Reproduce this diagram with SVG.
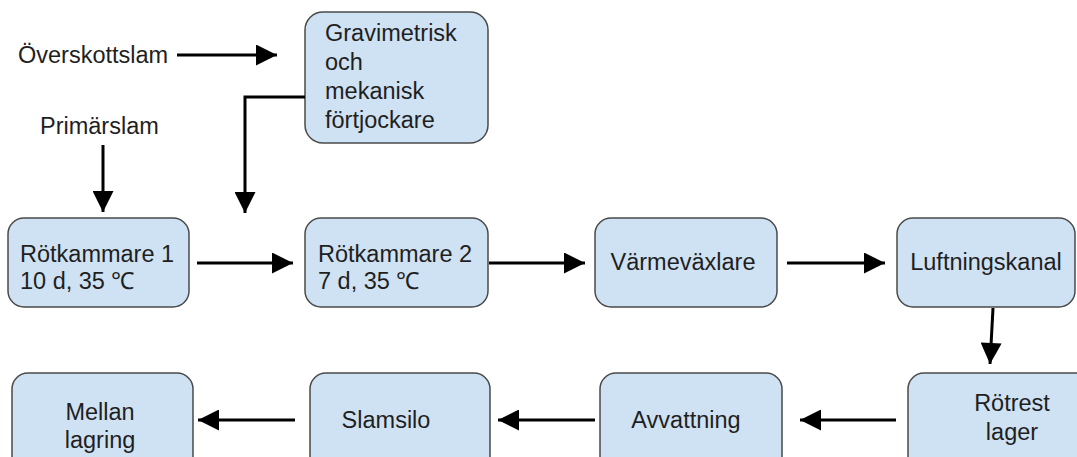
<svg xmlns="http://www.w3.org/2000/svg" width="1077" height="457" viewBox="0 0 1077 457">
  <style>
    .box { fill: #cfe2f3; stroke: #4a4a4a; stroke-width: 1.5; }
    .lbl { font-family: "Liberation Sans", Arial, sans-serif; font-size: 23.5px; fill: #1f1f1f; }
    .mid { text-anchor: middle; }
    .wire { fill: none; stroke: #000; stroke-width: 3; }
  </style>
  <defs>
    <marker id="head" viewBox="0 0 10 10" refX="10" refY="5" markerWidth="7.5" markerHeight="7" markerUnits="strokeWidth" orient="auto">
      <path d="M0,0 L10,5 L0,10 z" fill="#000"/>
    </marker>
  </defs>
  <rect width="1077" height="457" fill="#fff"/>

  <!-- free-standing inputs -->
  <text class="lbl" x="18" y="63">Överskottslam</text>
  <text class="lbl" x="40" y="134">Primärslam</text>

  <g id="thickener">
    <rect class="box" x="305" y="12" width="183" height="131" rx="18"/>
    <text class="lbl" x="325" y="41">Gravimetrisk</text>
    <text class="lbl" x="325" y="70">och</text>
    <text class="lbl" x="325" y="99">mekanisk</text>
    <text class="lbl" x="325" y="128">förtjockare</text>
  </g>

  <g id="digester1">
    <rect class="box" x="8" y="218" width="181" height="89" rx="16"/>
    <text class="lbl" x="20" y="262">Rötkammare 1</text>
    <text class="lbl" x="20" y="289">10 d, 35 ℃</text>
  </g>

  <g id="digester2">
    <rect class="box" x="305" y="218" width="183" height="89" rx="16"/>
    <text class="lbl" x="318" y="262">Rötkammare 2</text>
    <text class="lbl" x="318" y="289">7 d, 35 ℃</text>
  </g>

  <g id="heat-exchanger">
    <rect class="box" x="595" y="218" width="182" height="89" rx="16"/>
    <text class="lbl mid" x="683" y="270">Värmeväxlare</text>
  </g>

  <g id="aeration">
    <rect class="box" x="897" y="218" width="178" height="89" rx="16"/>
    <text class="lbl mid" x="986" y="270">Luftningskanal</text>
  </g>

  <g id="digestate-store">
    <rect class="box" x="908" y="373" width="185" height="100" rx="16"/>
    <text class="lbl mid" x="1012" y="411">Rötrest</text>
    <text class="lbl mid" x="1012" y="440">lager</text>
  </g>

  <g id="dewatering">
    <rect class="box" x="600" y="373" width="182" height="100" rx="16"/>
    <text class="lbl mid" x="686" y="428">Avvattning</text>
  </g>

  <g id="silo">
    <rect class="box" x="310" y="373" width="180" height="100" rx="16"/>
    <text class="lbl mid" x="386" y="428">Slamsilo</text>
  </g>

  <g id="interim-storage">
    <rect class="box" x="12" y="373" width="181" height="100" rx="16"/>
    <text class="lbl mid" x="100" y="420">Mellan</text>
    <text class="lbl mid" x="100" y="448">lagring</text>
  </g>

  <g id="connectors">
    <path class="wire" d="M177,55 H277" marker-end="url(#head)"/>
    <path class="wire" d="M103,145 V212" marker-end="url(#head)"/>
    <path class="wire" d="M305,97 H245 V213" marker-end="url(#head)"/>
    <path class="wire" d="M197,263 H293" marker-end="url(#head)"/>
    <path class="wire" d="M489,263 H585" marker-end="url(#head)"/>
    <path class="wire" d="M787,263 H885" marker-end="url(#head)"/>
    <path class="wire" d="M993,308 L990,364" marker-end="url(#head)"/>
    <path class="wire" d="M896,420 H800" marker-end="url(#head)"/>
    <path class="wire" d="M595,420 H498" marker-end="url(#head)"/>
    <path class="wire" d="M295,420 H198" marker-end="url(#head)"/>
  </g>
</svg>
